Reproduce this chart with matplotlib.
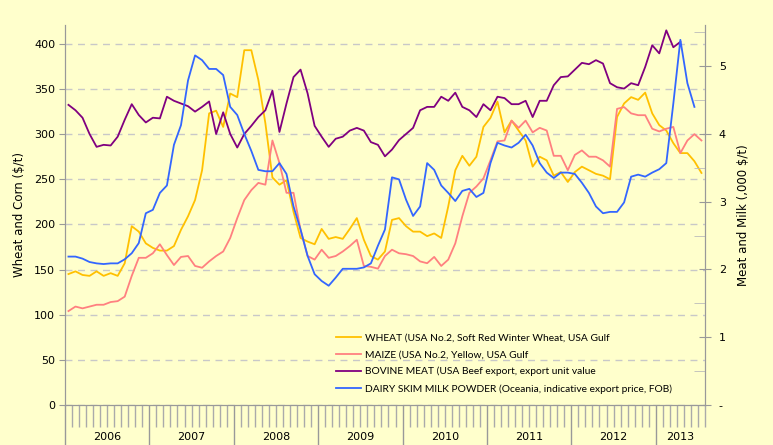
import numpy as np
import matplotlib.pyplot as plt
from matplotlib.lines import Line2D
from matplotlib import transforms

# monthly prices, Jan 2006 onwards
wheat = [145, 148, 144, 143, 148, 143, 146, 143, 157, 198, 192, 179,
         174, 171, 171, 176, 194, 209, 227, 260, 323, 326, 308, 345,
         341, 393, 393, 360, 312, 252, 244, 249, 214, 185, 181, 178,
         195, 184, 186, 184, 195, 207, 183, 165, 161, 170, 205, 207,
         198, 192, 192, 187, 190, 185, 220, 260, 276, 265, 275, 308,
         318, 336, 302, 315, 304, 293, 264, 275, 271, 254, 258, 247,
         258, 264, 260, 256, 254, 250, 319, 334, 341, 338, 346, 323,
         310, 304, 290, 279, 279, 270, 257]
maize = [104, 109, 107, 109, 111, 111, 114, 115, 120, 143, 163, 163,
         168, 178, 166, 155, 164, 165, 154, 152, 159, 165, 170, 185,
         207, 227, 238, 246, 244, 293, 268, 235, 235, 194, 165, 161,
         172, 163, 165, 170, 176, 183, 154, 153, 151, 165, 172, 168,
         167, 165, 159, 157, 164, 154, 161, 179, 209, 235, 242, 251,
         271, 292, 293, 315, 307, 315, 302, 307, 304, 276, 276, 260,
         277, 282, 275, 275, 271, 264, 328, 330, 323, 321, 321, 306,
         303, 306, 308, 279, 293, 300, 293]
# ,000 $/t
meat = [4.43, 4.35, 4.24, 4.00, 3.81, 3.84, 3.83, 3.96, 4.21, 4.44, 4.28, 4.17,
        4.24, 4.23, 4.55, 4.49, 4.45, 4.41, 4.33, 4.40, 4.48, 4.00, 4.32, 4.00,
        3.80, 4.00, 4.12, 4.25, 4.35, 4.64, 4.03, 4.45, 4.84, 4.95, 4.60, 4.12,
        3.96, 3.81, 3.93, 3.96, 4.05, 4.09, 4.05, 3.88, 3.84, 3.67, 3.77, 3.91,
        4.00, 4.09, 4.35, 4.40, 4.40, 4.55, 4.49, 4.61, 4.40, 4.35, 4.25, 4.44,
        4.35, 4.55, 4.53, 4.44, 4.44, 4.49, 4.25, 4.49, 4.49, 4.72, 4.84, 4.85,
        4.95, 5.05, 5.03, 5.09, 5.04, 4.75, 4.69, 4.67, 4.75, 4.72, 4.99, 5.31,
        5.19, 5.53, 5.28, 5.36]
milk = [2.19, 2.19, 2.16, 2.11, 2.09, 2.08, 2.09, 2.09, 2.15, 2.24, 2.39, 2.83,
        2.88, 3.13, 3.24, 3.84, 4.13, 4.79, 5.16, 5.09, 4.96, 4.96, 4.87, 4.40,
        4.28, 4.00, 3.75, 3.47, 3.45, 3.45, 3.57, 3.41, 2.93, 2.59, 2.20, 1.93,
        1.83, 1.76, 1.88, 2.01, 2.01, 2.01, 2.03, 2.09, 2.35, 2.59, 3.36, 3.33,
        3.03, 2.79, 2.93, 3.57, 3.47, 3.24, 3.13, 3.01, 3.16, 3.19, 3.07, 3.13,
        3.57, 3.87, 3.83, 3.80, 3.87, 3.99, 3.83, 3.57, 3.43, 3.35, 3.43, 3.43,
        3.41, 3.28, 3.13, 2.93, 2.83, 2.85, 2.85, 2.99, 3.37, 3.40, 3.37, 3.43,
        3.48, 3.57, 4.45, 5.39, 4.75, 4.40]

years = ["2006", "2007", "2008", "2009", "2010", "2011", "2012", "2013"]
n_months = 91

labels = ["WHEAT (USA No.2, Soft Red Winter Wheat, USA Gulf",
          "MAIZE (USA No.2, Yellow, USA Gulf",
          "BOVINE MEAT (USA Beef export, export unit value",
          "DAIRY SKIM MILK POWDER (Oceania, indicative export price, FOB)"]
colors = ["#FFC000", "#FF8080", "#800080", "#3366FF"]

bg = "#FFFFCC"
grey = "#999999"

fig = plt.figure(figsize=(7.73, 4.45), dpi=100, facecolor=bg)
ax = fig.add_axes([0.084, 0.09, 0.828, 0.854])
ax.set_facecolor(bg)
ax2 = ax.twinx()

ax.plot(np.arange(len(wheat)) + 0.5, wheat, color=colors[0], lw=1.3)
ax.plot(np.arange(len(maize)) + 0.5, maize, color=colors[1], lw=1.3)
ax2.plot(np.arange(len(meat)) + 0.5, meat, color=colors[2], lw=1.3)
ax2.plot(np.arange(len(milk)) + 0.5, milk, color=colors[3], lw=1.3)

ax.set_xlim(0, n_months)
ax.set_ylim(0, 421)
ax2.set_ylim(0, 5.61)

ax.set_yticks(np.arange(0, 401, 50))
ax.yaxis.grid(True, color="#C8C8C8", linestyle=(0, (5, 4)), lw=1)
ax.set_axisbelow(True)
ax.tick_params(axis="y", length=4, color=grey, labelsize=8, pad=3)

ax2.set_yticks(range(6))
ax2.set_yticklabels(["-", "1", "2", "3", "4", "5"])
ax2.set_yticks(np.arange(0.5, 5.6, 1), minor=True)
ax2.tick_params(axis="y", which="major", direction="inout", length=8,
                color=grey, labelsize=8, pad=6)
ax2.tick_params(axis="y", which="minor", direction="in", length=8, color="#BBBBBB")

# month ticks under the axis, year boundaries longer
ax.set_xticks(np.arange(0, n_months + 1, 12))
ax.set_xticks(np.arange(0, n_months + 1), minor=True)
ax.set_xticklabels([])
ax.tick_params(axis="x", which="major", length=29, color=grey, width=1)
ax.tick_params(axis="x", which="minor", length=16, color="#AAAAAA", width=1)
trans = transforms.blended_transform_factory(ax.transData, ax.transAxes)
for k, yr in enumerate(years):
    x0 = k * 12
    x1 = min(x0 + 12, n_months)
    ax.text((x0 + x1) / 2, -0.085, yr, transform=trans, ha="center",
            va="center", fontsize=8)

for a in (ax, ax2):
    a.spines["top"].set_visible(False)
    for s in ("left", "right", "bottom"):
        a.spines[s].set_color(grey)

ax.set_ylabel("Wheat and Corn ($/t)", fontsize=8.5, labelpad=6)
ax2.set_ylabel("Meat and Milk (,000 $/t)", fontsize=8.5, labelpad=8)

handles = [Line2D([], [], color=c, lw=1.3) for c in colors]
ax2.legend(handles, labels, loc="upper left", bbox_to_anchor=(0.417, 0.2),
           frameon=False, prop={"family": "Lato", "size": 7.4},
           handlelength=2.4, handletextpad=0.45,
           labelspacing=0.75, borderaxespad=0)

plt.savefig("out.png", dpi=100, facecolor=bg)
